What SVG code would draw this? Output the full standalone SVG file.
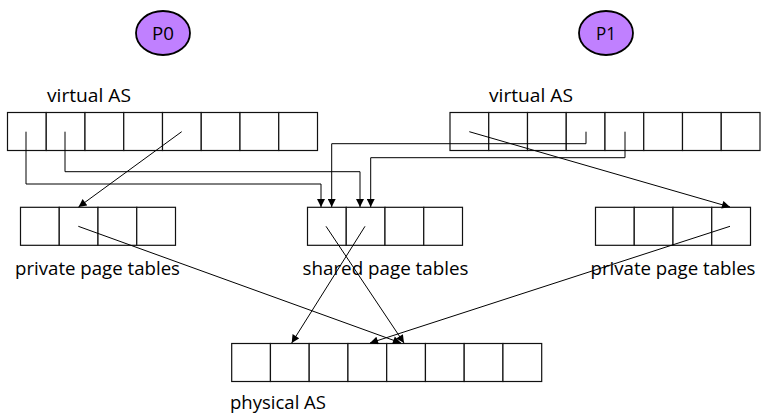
<svg xmlns="http://www.w3.org/2000/svg" width="761" height="413" viewBox="0 0 761 413">
<style>
.cell{fill:#fff;stroke:#111;stroke-width:1.2}
.proc{fill:#c080ff;stroke:#000;stroke-width:1.8}
.lbl{font-family:"Open Sans","Noto Sans",sans-serif;font-size:18px;fill:#000}
.plbl{font-family:"Open Sans","Noto Sans",sans-serif;font-size:18px;fill:#000;text-anchor:middle}
.con{fill:none;stroke:#000;stroke-width:1}
</style>
<defs>
<marker id="ah" viewBox="0 0 10 10" refX="10" refY="5" markerWidth="9" markerHeight="8" markerUnits="userSpaceOnUse" orient="auto">
<path d="M0,0 L10,5 L0,10 z" fill="#000"/>
</marker>
<g id="cells8">
<rect class="cell" x="0" y="0" width="38.75" height="38"/>
<rect class="cell" x="38.75" y="0" width="38.75" height="38"/>
<rect class="cell" x="77.5" y="0" width="38.75" height="38"/>
<rect class="cell" x="116.25" y="0" width="38.75" height="38"/>
<rect class="cell" x="155" y="0" width="38.75" height="38"/>
<rect class="cell" x="193.75" y="0" width="38.75" height="38"/>
<rect class="cell" x="232.5" y="0" width="38.75" height="38"/>
<rect class="cell" x="271.25" y="0" width="38.75" height="38"/>
</g>
<g id="cells4">
<rect class="cell" x="0" y="0" width="38.75" height="38"/>
<rect class="cell" x="38.75" y="0" width="38.75" height="38"/>
<rect class="cell" x="77.5" y="0" width="38.75" height="38"/>
<rect class="cell" x="116.25" y="0" width="38.75" height="38"/>
</g>
</defs>
<rect width="761" height="413" fill="#fff"/>

<g id="p0">
<ellipse class="proc" cx="163" cy="33" rx="27" ry="22"/>
<text class="plbl" x="163" y="40" textLength="22" lengthAdjust="spacingAndGlyphs">P0</text>
</g>
<g id="p1">
<ellipse class="proc" cx="606" cy="33" rx="27" ry="22"/>
<text class="plbl" x="606" y="40" textLength="20" lengthAdjust="spacingAndGlyphs">P1</text>
</g>

<g id="virtual-as-0">
<text class="lbl" x="47" y="102" textLength="84" lengthAdjust="spacingAndGlyphs">virtual AS</text>
<use href="#cells8" x="7.5" y="112.5"/>
</g>
<g id="virtual-as-1">
<text class="lbl" x="489" y="102" textLength="84" lengthAdjust="spacingAndGlyphs">virtual AS</text>
<use href="#cells8" x="450" y="112.5"/>
</g>

<g id="private-pt-0">
<use href="#cells4" x="20.5" y="207.3"/>
<text class="lbl" x="97.5" y="275" text-anchor="middle" textLength="165" lengthAdjust="spacingAndGlyphs">private page tables</text>
</g>
<g id="shared-pt">
<use href="#cells4" x="307.5" y="207.3"/>
<text class="lbl" x="385.5" y="275" text-anchor="middle" textLength="166" lengthAdjust="spacingAndGlyphs">shared page tables</text>
</g>
<g id="private-pt-1">
<use href="#cells4" x="595.5" y="207.3"/>
<text class="lbl" x="673" y="275" text-anchor="middle" textLength="165" lengthAdjust="spacingAndGlyphs">private page tables</text>
</g>

<g id="physical-as">
<use href="#cells8" x="231.7" y="343.5"/>
<text class="lbl" x="230" y="409" textLength="96" lengthAdjust="spacingAndGlyphs">physical AS</text>
</g>

<g id="connectors">
<path class="con" d="M26,131.7 V184 H321 V207" marker-end="url(#ah)"/>
<path class="con" d="M65,131.7 V171.7 H360 V207" marker-end="url(#ah)"/>
<path class="con" d="M586,131.7 V143.7 H331.7 V207" marker-end="url(#ah)"/>
<path class="con" d="M625,131.7 V157.7 H370.7 V207" marker-end="url(#ah)"/>
<path class="con" d="M181.7,131.7 L78.5,207" marker-end="url(#ah)"/>
<path class="con" d="M469.3,131.7 L730,207" marker-end="url(#ah)"/>
<path class="con" d="M78.3,226.3 L401,343" marker-end="url(#ah)"/>
<path class="con" d="M326,226.3 L404,343" marker-end="url(#ah)"/>
<path class="con" d="M365,226.3 L291.7,343" marker-end="url(#ah)"/>
<path class="con" d="M730,226.3 L370,343" marker-end="url(#ah)"/>
</g>
</svg>
